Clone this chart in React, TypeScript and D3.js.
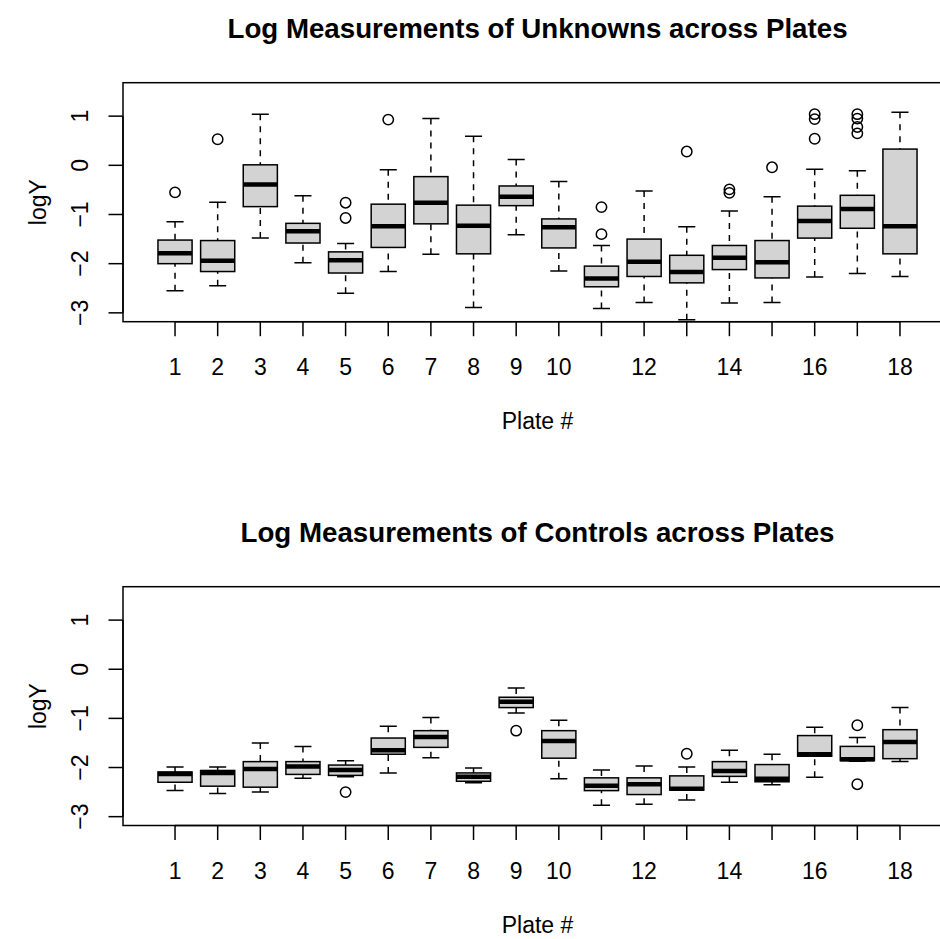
import * as d3 from 'd3';
import React, { useEffect, useRef } from 'react';

// plate numbers on the x axis
const plates = [1, 2, 3, 4, 5, 6, 7, 8, 9, 10, 11, 12, 13, 14, 15, 16, 17, 18];
// R drops overlapping labels, these are the ones that show
const xLabelPlates = [1, 2, 3, 4, 5, 6, 7, 8, 9, 10, 12, 14, 16, 18];
const yTicks = [-3, -2, -1, 0, 1];

// unknowns: whisker low, Q1, median, Q3, whisker high
const unkLow = [-2.55, -2.45, -1.48, -1.98, -2.6, -2.16, -1.81, -2.89, -1.41, -2.15, -2.91, -2.79, -3.14, -2.8, -2.79, -2.27, -2.2, -2.26];
const unkQ1 = [-2.0, -2.16, -0.84, -1.58, -2.19, -1.67, -1.19, -1.8, -0.82, -1.68, -2.47, -2.26, -2.39, -2.12, -2.29, -1.48, -1.28, -1.8];
const unkMed = [-1.79, -1.94, -0.39, -1.34, -1.93, -1.24, -0.76, -1.23, -0.64, -1.26, -2.3, -1.96, -2.17, -1.88, -1.97, -1.13, -0.89, -1.24];
const unkQ3 = [-1.52, -1.53, 0.01, -1.18, -1.76, -0.79, -0.23, -0.81, -0.42, -1.09, -2.05, -1.5, -1.83, -1.63, -1.53, -0.83, -0.61, 0.33];
const unkHigh = [-1.15, -0.75, 1.04, -0.62, -1.59, -0.09, 0.95, 0.59, 0.12, -0.33, -1.63, -0.52, -1.25, -0.93, -0.64, -0.08, -0.11, 1.08];
const unkOut = [[-0.55], [0.53], [], [], [-0.76, -1.07], [0.93], [], [], [], [], [-0.85, -1.4], [], [0.28], [-0.49, -0.56], [-0.04], [1.04, 0.94, 0.54], [1.04, 0.95, 0.78, 0.65], []];

// controls
const ctlLow = [-2.47, -2.53, -2.5, -2.22, -2.19, -2.11, -1.8, -2.31, -0.89, -2.23, -2.77, -2.75, -2.66, -2.3, -2.35, -2.2, -1.87, -1.88];
const ctlQ1 = [-2.3, -2.38, -2.4, -2.14, -2.16, -1.73, -1.59, -2.28, -0.78, -1.81, -2.47, -2.55, -2.46, -2.18, -2.29, -1.77, -1.86, -1.82];
const ctlMed = [-2.13, -2.11, -2.03, -1.98, -2.05, -1.65, -1.38, -2.19, -0.66, -1.46, -2.37, -2.34, -2.43, -2.07, -2.23, -1.73, -1.83, -1.48];
const ctlQ3 = [-2.09, -2.06, -1.88, -1.88, -1.95, -1.4, -1.25, -2.11, -0.57, -1.25, -2.21, -2.21, -2.17, -1.88, -1.94, -1.35, -1.57, -1.23];
const ctlHigh = [-1.99, -1.99, -1.5, -1.57, -1.86, -1.16, -0.98, -2.01, -0.38, -1.04, -2.05, -1.97, -1.99, -1.65, -1.73, -1.18, -1.39, -0.78];
const ctlOut = [[], [], [], [], [-2.5], [], [], [], [-1.25], [], [], [], [-1.72], [], [], [], [-1.14, -2.34], []];

const W = 940;
const H = 939;
const font = "'Liberation Sans', Arial, Helvetica, sans-serif";

const panels = [
    { title: 'Log Measurements of Unknowns across Plates', top: 82.7, bottom: 321.7,
      low: unkLow, q1: unkQ1, med: unkMed, q3: unkQ3, high: unkHigh, out: unkOut },
    { title: 'Log Measurements of Controls across Plates', top: 586.7, bottom: 825.5,
      low: ctlLow, q1: ctlQ1, med: ctlMed, q3: ctlQ3, high: ctlHigh, out: ctlOut },
];

const App = () => {
    const ref = useRef(null);

    useEffect(() => {
        document.body.style.margin = '0';
        const svg = d3.select(ref.current);
        svg.selectAll('*').remove();

        const left = 123, right = 952;
        const x = d3.scaleLinear().domain([-0.22, 19.22]).range([left, right]);
        const halfBox = x(0.4) - x(0);
        const halfStaple = x(0.2) - x(0);
        const lw = 1.5;
        const tick = 14.5;
        const fs = 23;

        panels.forEach((p, pi) => {
            const y = d3.scaleLinear().domain([-3.18, 1.68]).range([p.bottom, p.top]);
            const g = svg.append('g');

            const clipId = 'clip' + pi;
            svg.append('clipPath').attr('id', clipId)
                .append('rect')
                .attr('x', left).attr('y', p.top)
                .attr('width', right - left).attr('height', p.bottom - p.top);

            const body = g.append('g').attr('clip-path', `url(#${clipId})`);

            plates.forEach((plate, i) => {
                const cx = x(plate);
                const bg = body.append('g');
                // whiskers, drawn from the staple toward the box like R does
                [[p.high[i], p.q3[i]], [p.low[i], p.q1[i]]].forEach(([a, b]) => {
                    bg.append('line')
                        .attr('x1', cx).attr('x2', cx)
                        .attr('y1', y(a)).attr('y2', y(b))
                        .attr('stroke', '#000').attr('stroke-width', lw)
                        .attr('stroke-dasharray', '6,6');
                    bg.append('line')
                        .attr('x1', cx - halfStaple).attr('x2', cx + halfStaple)
                        .attr('y1', y(a)).attr('y2', y(a))
                        .attr('stroke', '#000').attr('stroke-width', lw);
                });
                bg.append('rect')
                    .attr('x', cx - halfBox).attr('width', halfBox * 2)
                    .attr('y', y(p.q3[i])).attr('height', y(p.q1[i]) - y(p.q3[i]))
                    .attr('fill', '#d3d3d3').attr('stroke', '#000').attr('stroke-width', lw);
                bg.append('line')
                    .attr('x1', cx - halfBox).attr('x2', cx + halfBox)
                    .attr('y1', y(p.med[i])).attr('y2', y(p.med[i]))
                    .attr('stroke', '#000').attr('stroke-width', 4.5);
                bg.selectAll('circle')
                    .data(p.out[i])
                    .enter()
                    .append('circle')
                        .attr('cx', cx).attr('cy', (d) => y(d))
                        .attr('r', 5.2)
                        .attr('fill', 'none').attr('stroke', '#000').attr('stroke-width', lw);
            });

            // plot frame
            g.append('rect')
                .attr('x', left).attr('y', p.top)
                .attr('width', right - left).attr('height', p.bottom - p.top)
                .attr('fill', 'none').attr('stroke', '#000').attr('stroke-width', lw);

            // y axis
            g.append('line')
                .attr('x1', left).attr('x2', left)
                .attr('y1', y(yTicks[0])).attr('y2', y(yTicks[yTicks.length - 1]))
                .attr('stroke', '#000').attr('stroke-width', lw);
            yTicks.forEach((t) => {
                g.append('line')
                    .attr('x1', left - tick).attr('x2', left)
                    .attr('y1', y(t)).attr('y2', y(t))
                    .attr('stroke', '#000').attr('stroke-width', lw);
                g.append('text')
                    .attr('transform', `translate(${left - 35.5},${y(t)}) rotate(-90)`)
                    .attr('text-anchor', 'middle')
                    .attr('font-family', font).attr('font-size', fs)
                    .text(t < 0 ? '\u2212' + Math.abs(t) : String(t));
            });

            // x axis
            g.append('line')
                .attr('x1', x(plates[0])).attr('x2', x(plates[plates.length - 1]))
                .attr('y1', p.bottom).attr('y2', p.bottom)
                .attr('stroke', '#000').attr('stroke-width', lw);
            plates.forEach((t) => {
                g.append('line')
                    .attr('x1', x(t)).attr('x2', x(t))
                    .attr('y1', p.bottom).attr('y2', p.bottom + tick)
                    .attr('stroke', '#000').attr('stroke-width', lw);
            });
            xLabelPlates.forEach((t) => {
                g.append('text')
                    .attr('x', x(t)).attr('y', p.bottom + 53.3)
                    .attr('text-anchor', 'middle')
                    .attr('font-family', font).attr('font-size', fs)
                    .text(t);
            });

            // labels
            const mid = (left + right) / 2;
            g.append('text')
                .attr('x', mid).attr('y', p.top - 44.7)
                .attr('text-anchor', 'middle')
                .attr('font-family', font).attr('font-size', 27.7).attr('font-weight', 'bold')
                .text(p.title);
            g.append('text')
                .attr('x', mid).attr('y', p.bottom + 107)
                .attr('text-anchor', 'middle')
                .attr('font-family', font).attr('font-size', fs)
                .text('Plate #');
            g.append('text')
                .attr('transform', `translate(46,${(p.top + p.bottom) / 2}) rotate(-90)`)
                .attr('text-anchor', 'middle')
                .attr('font-family', font).attr('font-size', fs)
                .text('logY');
        });
    }, []);

    return (
        <div style={{ position: 'absolute', left: 0, top: 0 }}>
            <svg ref={ref} width={W} height={H} style={{ display: 'block', background: '#fff' }}></svg>
        </div>
    );
};

export default App;
